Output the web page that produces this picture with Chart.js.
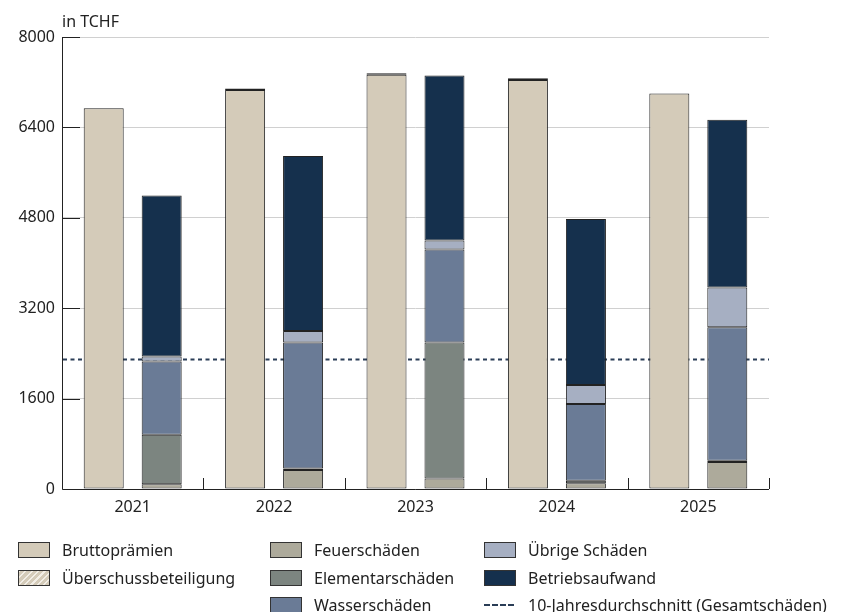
<!DOCTYPE html>
<html>
<head>
<meta charset="utf-8">
<script src="https://cdn.jsdelivr.net/npm/chart.js@4.4.1/dist/chart.umd.min.js"></script>
<style>
  html, body { margin: 0; padding: 0; background: #fff; }
  #wrap { position: relative; width: 846px; height: 612px; }
  canvas { position: absolute; left: 0; top: 0; }
  #legend { position: absolute; left: 0; top: 0; width: 846px; height: 612px; pointer-events: none;
    font-family: "Noto Sans", sans-serif; font-size: 16px; color: #222; }
  .li { position: absolute; display: flex; align-items: center; white-space: nowrap; height: 18px; }
  .box { width: 32px; height: 16px; border: 1px solid #333; margin-right: 12px; box-sizing: border-box; }
  .dash { width: 30px; height: 0; border-top: 2px dashed #2a3d56; margin-right: 14px; }
</style>
</head>
<body>
<div id="wrap">
<canvas id="c" width="846" height="612"></canvas>
<div id="legend"></div>
</div>
<script>
const years = ['2021', '2022', '2023', '2024', '2025'];
const bruttopraemien = [6740, 7060, 7330, 7240, 7000];
const ueberschuss = [0, 30, 30, 30, 0];
const feuer = [85, 335, 185, 100, 480];
const elementar = [875, 30, 2410, 45, 20];
const wasser = [1295, 2230, 1645, 1360, 2365];
const uebrige = [90, 200, 160, 335, 700];
const betrieb = [2850, 3100, 2920, 2940, 2970];
const zehnJahresDurchschnitt = 2300;
const yTicks = [0, 1600, 3200, 4800, 6400, 8000];

const FONT = '"Noto Sans", sans-serif';
const FS = 16;

function hatchPattern() {
  const p = document.createElement('canvas');
  p.width = 6; p.height = 6;
  const g = p.getContext('2d');
  g.fillStyle = '#d4cbb9'; g.fillRect(0, 0, 6, 6);
  g.strokeStyle = '#f2eee6'; g.lineWidth = 1.5;
  g.beginPath(); g.moveTo(0, 6); g.lineTo(6, 0); g.moveTo(-1, 1); g.lineTo(1, -1); g.moveTo(5, 7); g.lineTo(7, 5); g.stroke();
  return document.getElementById('c').getContext('2d').createPattern(p, 'repeat');
}

const barCommon = { borderColor: '#222', borderWidth: 1, borderSkipped: false, categoryPercentage: 0.82, barPercentage: 0.69 };

const datasets = [
  Object.assign({ label: 'Bruttoprämien', data: bruttopraemien, backgroundColor: '#d4cbb9', stack: 'p' }, barCommon),
  Object.assign({ label: 'Überschussbeteiligung', data: ueberschuss, backgroundColor: hatchPattern(), stack: 'p' }, barCommon),
  Object.assign({ label: 'Feuerschäden', data: feuer, backgroundColor: '#adaa9b', stack: 's' }, barCommon),
  Object.assign({ label: 'Elementarschäden', data: elementar, backgroundColor: '#7c8580', stack: 's' }, barCommon),
  Object.assign({ label: 'Wasserschäden', data: wasser, backgroundColor: '#6a7b96', stack: 's' }, barCommon),
  Object.assign({ label: 'Übrige Schäden', data: uebrige, backgroundColor: '#a6afc2', stack: 's' }, barCommon),
  Object.assign({ label: 'Betriebsaufwand', data: betrieb, backgroundColor: '#15304d', stack: 's' }, barCommon)
];
const avgLabel = '10-Jahresdurchschnitt (Gesamtschäden)';

const decor = {
  id: 'decor',
  beforeDatasetsDraw(chart) {
    const ctx = chart.ctx, y = chart.scales.y, x = chart.scales.x;
    const py = Math.round(y.getPixelForValue(zehnJahresDurchschnitt)) + 0.5;
    ctx.save();
    ctx.beginPath(); ctx.rect(x.left, y.top, x.right - x.left, y.bottom - y.top); ctx.clip();
    ctx.strokeStyle = '#2a3d56'; ctx.lineWidth = 2; ctx.setLineDash([4, 3.5]);
    ctx.beginPath(); ctx.moveTo(x.left + 1, py); ctx.lineTo(x.right, py); ctx.stroke();
    ctx.restore();
  },
  afterDraw(chart) {
    const ctx = chart.ctx, a = chart.chartArea, y = chart.scales.y, x = chart.scales.x;
    ctx.save();
    ctx.strokeStyle = '#222'; ctx.lineWidth = 1;
    yTicks.forEach(v => {
      if (v === 0) return;
      const py = Math.round(y.getPixelForValue(v)) + 0.5;
      ctx.beginPath(); ctx.moveTo(a.left, py); ctx.lineTo(a.left + 18, py); ctx.stroke();
    });
    const step = x.getPixelForValue(1) - x.getPixelForValue(0);
    for (let i = 0; i < years.length; i++) {
      const px = Math.round(x.getPixelForValue(i) + step / 2) + 0.5;
      ctx.beginPath(); ctx.moveTo(px, a.bottom); ctx.lineTo(px, a.bottom - 11); ctx.stroke();
    }
    ctx.beginPath(); ctx.moveTo(a.left + 0.5, a.top); ctx.lineTo(a.left + 0.5, a.bottom + 0.5); ctx.lineTo(a.right, a.bottom + 0.5); ctx.stroke();
    ctx.fillStyle = '#222'; ctx.font = FS + 'px ' + FONT; ctx.textBaseline = 'alphabetic'; ctx.textAlign = 'left';
    ctx.fillText('in TCHF', a.left, a.top - 10);
    ctx.restore();
  }
};

const chart = new Chart(document.getElementById('c'), {
  type: 'bar',
  data: { labels: years, datasets },
  options: {
    responsive: false, animation: false,
    layout: { padding: { left: 0, top: 37, right: 77, bottom: 93 } },
    plugins: { legend: { display: false }, tooltip: { enabled: false } },
    scales: {
      x: { stacked: true, offset: true, grid: { display: false, drawTicks: false }, border: { display: false },
           ticks: { color: '#222', font: { family: FONT, size: FS }, padding: 9 },
           afterFit: s => { s.height = 30; } },
      y: { stacked: true, min: 0, max: 8000, afterBuildTicks: s => { s.ticks = yTicks.map(v => ({ value: v })); },
           grid: { color: '#d0d0d0', lineWidth: 1, drawTicks: false }, border: { display: false },
           ticks: { color: '#222', font: { family: FONT, size: FS }, padding: 7, callback: v => String(v) },
           afterFit: s => { s.width = 62; } }
    }
  },
  plugins: [decor]
});

const leg = document.getElementById('legend');
const cols = [18, 270, 484];
const rows = [550, 578, 605];
const items = datasets.map(d => ({ label: d.label, color: d.backgroundColor }));
items.push({ label: avgLabel, line: true });
const place = [[0,0],[0,1],[1,0],[1,1],[1,2],[2,0],[2,1],[2,2]];
const swatch = { 'Überschussbeteiligung': 'repeating-linear-gradient(-45deg, #d4cbb9 0 3px, #f2eee6 3px 4.5px)' };
items.forEach((d, i) => {
  const [c, r] = place[i];
  const el = document.createElement('div');
  el.className = 'li';
  el.style.left = cols[c] + 'px';
  el.style.top = (rows[r] - 9) + 'px';
  const b = document.createElement('div');
  if (d.line) { b.className = 'dash'; }
  else { b.className = 'box'; b.style.background = swatch[d.label] || d.color; }
  el.appendChild(b);
  const t = document.createElement('span'); t.textContent = d.label; el.appendChild(t);
  leg.appendChild(el);
});
</script>
</body>
</html>
